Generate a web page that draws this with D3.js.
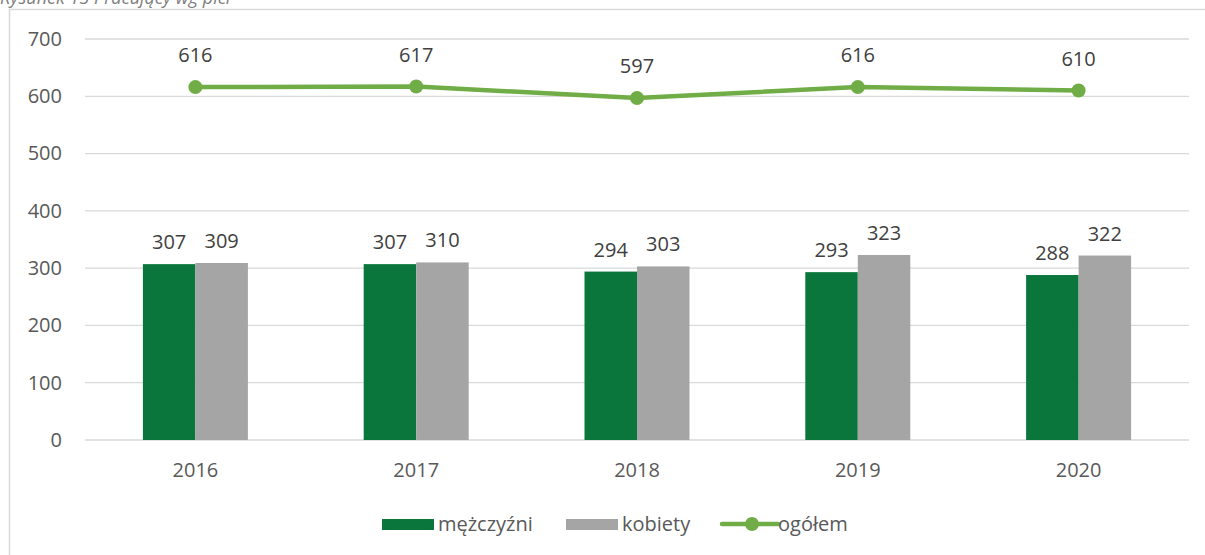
<!DOCTYPE html>
<html>
<head>
<meta charset="utf-8">
<script src="https://cdn.jsdelivr.net/npm/d3@7"></script>
<style>
  body { margin: 0; background: #fff; }
  svg { font-family: "Open Sans", Lato, sans-serif; }
</style>
</head>
<body>
<div id="chart"></div>
<script>
const years = ["2016", "2017", "2018", "2019", "2020"];
const men = [307, 307, 294, 293, 288];
const women = [309, 310, 303, 323, 322];
const total = [616, 617, 597, 616, 610];
const yTicks = [0, 100, 200, 300, 400, 500, 600, 700];

const outerWidth = 1205, outerHeight = 555;
const margin = {top: 39, left: 85, bottom: 115, right: 16};
const width = outerWidth - margin.left - margin.right;
const height = outerHeight - margin.top - margin.bottom;
const fontSize = 20;
const font = "'Open Sans', Lato, sans-serif";

const root = d3.select("#chart").append("svg")
    .attr("width", outerWidth)
    .attr("height", outerHeight);

// caption, cut off at the top like in the source
root.append("text")
    .attr("x", 0).attr("y", 4)
    .attr("font-style", "italic")
    .attr("font-size", 18)
    .attr("fill", "#7f7f7f")
    .text("Rysunek 13 Pracujący wg płci");

// chart frame
root.append("path")
    .attr("d", "M9.5,555 V9.5 H1205")
    .attr("fill", "none")
    .attr("stroke", "#d9d9d9")
    .attr("stroke-width", 1.5);

const svg = root.append("g")
    .attr("transform", `translate(${margin.left}, ${margin.top})`);

let xScale = d3.scaleBand().domain(years).range([0, width]);
let yScale = d3.scaleLinear().domain([0, 700]).range([height, 0]);
const barW = 52.5;

// gridlines
svg.append("g")
    .selectAll("line")
    .data(yTicks)
    .join("line")
        .attr("x1", 0).attr("x2", width)
        .attr("y1", d => yScale(d)).attr("y2", d => yScale(d))
        .attr("stroke", "#d9d9d9")
        .attr("stroke-width", 1.3);

const yAxis = d3.axisLeft(yScale).tickValues(yTicks).tickSize(0).tickPadding(23);
svg.append("g")
    .call(yAxis)
    .call(g => g.select(".domain").remove())
    .selectAll("text")
        .attr("font-size", fontSize)
        .attr("fill", "#595959")
        .attr("font-family", font);

const xAxis = d3.axisBottom(xScale).tickSize(0).tickPadding(23);
svg.append("g")
    .attr("transform", `translate(0, ${height})`)
    .call(xAxis)
    .call(g => g.select(".domain").remove())
    .selectAll("text")
        .attr("font-size", fontSize)
        .attr("fill", "#595959")
        .attr("font-family", font);

const cx = d => xScale(d) + xScale.bandwidth() / 2;

// bars
const series = [
    {key: "mężczyźni", values: men, color: "#0a763c", off: -barW},
    {key: "kobiety", values: women, color: "#a5a5a5", off: 0}
];
series.forEach(s => {
    svg.append("g").selectAll("rect")
        .data(years)
        .join("rect")
            .attr("x", d => cx(d) + s.off)
            .attr("width", barW)
            .attr("y", (d, i) => yScale(s.values[i]))
            .attr("height", (d, i) => height - yScale(s.values[i]))
            .attr("fill", s.color);
    svg.append("g").selectAll("text")
        .data(years)
        .join("text")
            .attr("x", d => cx(d) + s.off + barW / 2)
            .attr("y", (d, i) => yScale(s.values[i]) - 15)
            .attr("text-anchor", "middle")
            .attr("font-size", fontSize)
            .attr("fill", "#404040")
            .text((d, i) => s.values[i]);
});

// total line
const line = d3.line()
    .x(d => cx(d))
    .y((d, i) => yScale(total[i]));
svg.append("path")
    .datum(years)
    .attr("d", line)
    .attr("fill", "none")
    .attr("stroke", "#70ad47")
    .attr("stroke-width", 4.5);
svg.append("g").selectAll("circle")
    .data(years)
    .join("circle")
        .attr("cx", d => cx(d))
        .attr("cy", (d, i) => yScale(total[i]))
        .attr("r", 7)
        .attr("fill", "#70ad47");
svg.append("g").selectAll("text")
    .data(years)
    .join("text")
        .attr("x", d => cx(d))
        .attr("y", (d, i) => yScale(total[i]) - 25)
        .attr("text-anchor", "middle")
        .attr("font-size", fontSize)
        .attr("fill", "#404040")
        .text((d, i) => total[i]);

// legend
const legend = root.append("g").attr("transform", "translate(0, 524)");
const items = [
    {label: "mężczyźni", x: 382, type: "rect", color: "#0a763c"},
    {label: "kobiety", x: 566, type: "rect", color: "#a5a5a5"},
    {label: "ogółem", x: 722, type: "line", color: "#70ad47"}
];
items.forEach(it => {
    if (it.type === "rect") {
        legend.append("rect")
            .attr("x", it.x).attr("y", -5)
            .attr("width", 52).attr("height", 11)
            .attr("fill", it.color);
    } else {
        legend.append("line")
            .attr("x1", it.x).attr("x2", it.x + 56)
            .attr("y1", 0).attr("y2", 0)
            .attr("stroke", it.color)
            .attr("stroke-width", 4.5)
            .attr("stroke-linecap", "round");
        legend.append("circle")
            .attr("cx", it.x + 30).attr("cy", 0)
            .attr("r", 7).attr("fill", it.color);
    }
    legend.append("text")
        .attr("x", it.x + 56)
        .attr("y", 0)
        .attr("dy", "0.35em")
        .attr("font-size", fontSize)
        .attr("fill", "#595959")
        .text(it.label);
});
</script>
</body>
</html>
